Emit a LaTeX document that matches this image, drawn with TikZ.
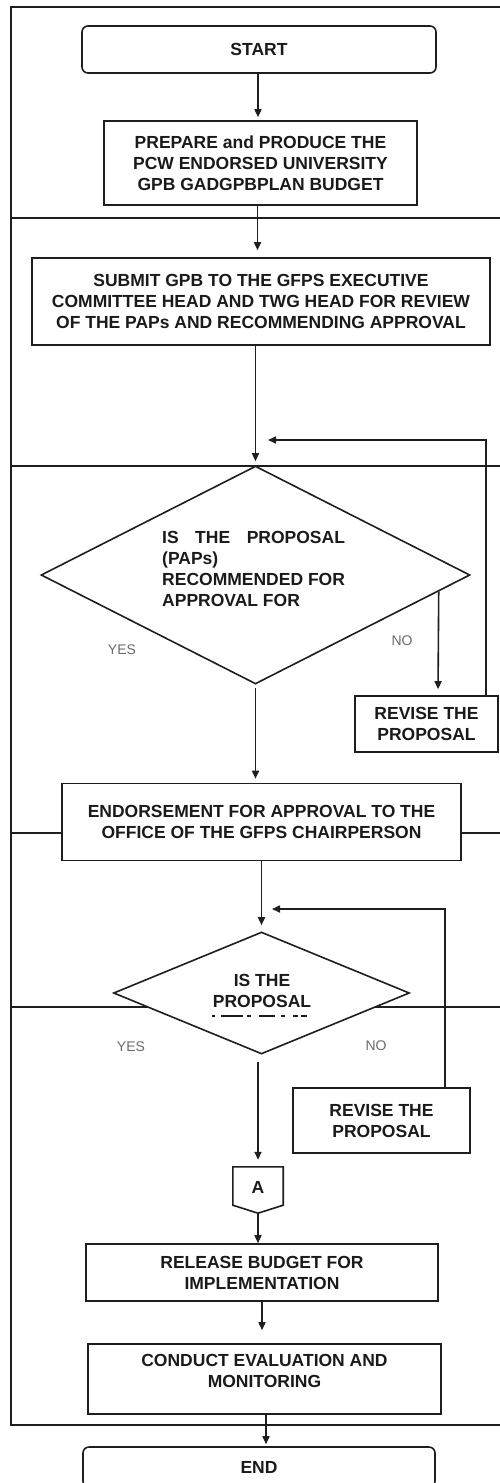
\documentclass[tikz,border=0pt]{standalone}
\usepackage{fontspec}
\setmainfont{Liberation Sans}
\usetikzlibrary{arrows.meta,shapes.geometric,calc}
\definecolor{lc}{HTML}{1E1E1E}
\definecolor{tc}{HTML}{1A1A1A}
\definecolor{gc}{HTML}{6A6A6A}
\newlength\recw
\begin{document}
\begin{tikzpicture}[x=1pt,y=-1pt,
  ln/.style={draw=lc, line width=1.6pt},
  arr/.style={draw=lc, line width=1.6pt, -{Triangle[length=8pt,width=7pt]}},
  box/.style={draw=lc, line width=1.6pt, fill=white, inner sep=2pt, align=center,
    font=\bfseries\fontsize{17.5}{21}\selectfont, text=tc},
  rbox/.style={box, rounded corners=6pt},
  dia/.style={draw=lc, line width=1.6pt, fill=white, diamond, inner sep=0pt},
  lbl/.style={font=\fontsize{14}{16}\selectfont, text=gc},
  txt/.style={align=center, inner sep=0pt, font=\bfseries\fontsize{17.5}{21}\selectfont, text=tc}]
\useasboundingbox (0,0) rectangle (500,1483);
\clip (0,0) rectangle (500,1483);
% frame and lanes
\draw[ln] (500,7) -- (11,7) -- (11,1425) -- (500,1425);
\draw[ln] (11,218) -- (500,218);
\draw[ln] (11,466) -- (500,466);
\draw[ln] (11,833) -- (500,833);
\draw[ln] (11,1007) -- (500,1007);
% nodes
\node[rbox, minimum width=354, minimum height=47] (start) at (259,49.5) {START};
\node[box, minimum width=313, minimum height=84] (prep) at (260.5,163)
  {PREPARE and PRODUCE THE\\PCW ENDORSED UNIVERSITY\\GPB GADGPBPLAN BUDGET};
\node[box, minimum width=458, minimum height=87] (submit) at (261,301.5)
  {SUBMIT GPB TO THE GFPS EXECUTIVE\\COMMITTEE HEAD AND TWG HEAD FOR REVIEW\\OF THE PAPs AND RECOMMENDING APPROVAL};
\node[dia, minimum width=429, minimum height=218] (d1) at (255.5,575) {};
\node[txt, align=left, anchor=west] (d1t) at (162,569)
  {\settowidth{\recw}{RECOMMENDED FOR}\makebox[\recw][s]{IS\hfill THE\hfill PROPOSAL}\\(PAPs)\\RECOMMENDED FOR\\APPROVAL FOR};
\node[lbl] (yes1) at (122,650) {YES};
\node[lbl] (no1) at (402,641) {NO};
\node[box, minimum width=143, minimum height=56] (rev1) at (426.5,724) {REVISE THE\\PROPOSAL};
\node[box, minimum width=399, minimum height=77] (endo) at (261.5,822)
  {ENDORSEMENT FOR APPROVAL TO THE\\OFFICE OF THE GFPS CHAIRPERSON};
\node[dia, minimum width=296, minimum height=122] (d2) at (261.5,993) {};
\node[txt] (d2t) at (262,991) {IS THE\\PROPOSAL};
\draw[lc, line width=1.8pt, dash pattern=on 3pt off 6pt on 22pt off 4pt on 4pt off 8pt on 16pt off 6pt on 4pt off 8pt on 5pt]
  (212,1016) -- (315,1016);
\node[lbl] (yes2) at (131,1047) {YES};
\node[lbl] (no2) at (376,1046) {NO};
\node[box, minimum width=177, minimum height=65] (rev2) at (381.5,1120.5) {REVISE THE\\PROPOSAL};
\node[minimum width=50, minimum height=38, inner sep=0pt] (A) at (258,1186) {};
\draw[ln, fill=white] (A.north west) -- (A.north east) -- (A.south east) -- ([yshift=-8pt]A.south)
  -- (A.south west) -- cycle;
\node[txt] (At) at (258,1187) {A};
\node[box, minimum width=352, minimum height=57] (rel) at (262,1272.5)
  {RELEASE BUDGET FOR\\IMPLEMENTATION};
\node[box, minimum width=353, minimum height=70] (cond) at (264.5,1379) {};
\node[txt] (condt) at (264.5,1370.5) {CONDUCT EVALUATION AND\\MONITORING};
\node[rbox, minimum width=352, minimum height=40] (end) at (259,1467) {END};
% connectors
\draw[arr, shorten >=3pt] ([xshift=-1pt]start.south) -- ([xshift=-1pt]start.south |- prep.north);
\draw[arr, shorten >=7pt] ([xshift=-3pt]prep.south) -- ([xshift=-3pt]prep.south |- submit.north);
\draw[arr, shorten >=4pt] (d1.north |- submit.south) -- (d1.north);
\coordinate (m1) at (268,440);
\draw[arr] ([xshift=59.5pt]rev1.north) |- (m1);
\draw[arr, shorten >=6pt] ($(d1.east)!0.149!(d1.south)$) -- ([xshift=11.5pt]rev1.north);
\draw[arr, shorten <=3pt, shorten >=4pt] (d1.south) -- (d1.south |- endo.north);
\draw[arr, shorten >=6pt] (d2.north |- endo.south) -- (d2.north);
\coordinate (m2) at (272,909);
\draw[arr] ([xshift=63.5pt]rev2.north) |- (m2);
\draw[arr, shorten <=7pt, shorten >=7pt] (A.north |- d2.south) -- (A.north);
\draw[arr] ([yshift=-8pt]A.south) -- (A.south |- rel.north);
\draw[arr, shorten >=13pt] (rel.south) -- (rel.south |- cond.north);
\draw[arr, shorten >=2pt] ([xshift=1.5pt]cond.south) -- ([xshift=1.5pt]cond.south |- end.north);
\end{tikzpicture}
\end{document}
